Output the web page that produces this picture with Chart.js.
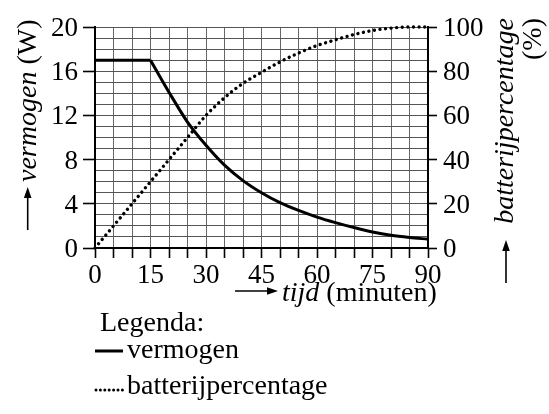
<!DOCTYPE html>
<html>
<head>
<meta charset="utf-8">
<script src="https://cdn.jsdelivr.net/npm/chart.js@4.4.1/dist/chart.umd.min.js"></script>
<style>
  html, body { margin: 0; padding: 0; background: #fff; }
  #wrap { position: relative; width: 549px; height: 414px; overflow: hidden; }
  canvas { display: block; }
  .lbl {
    position: absolute;
    font-size: 27px;
    line-height: 1;
    color: #000;
    white-space: nowrap;
  }
  .txt {
    position: absolute;
    font-size: 28px;
    line-height: 28px;
    color: #000;
    white-space: nowrap;
  }
  .rot { transform-origin: 0 0; transform: rotate(-90deg); }
</style>
</head>
<body>
<div id="wrap">
  <canvas id="laadChart" width="549" height="414"></canvas>
  <div class="txt rot" style="font-family:'Liberation Serif' !important; left:12.5px; top:182px;"><i style="font-family:'Liberation Serif' !important">vermogen</i> (W)</div>
  <div class="txt rot" style="font-family:'Liberation Serif' !important; left:489.5px; top:238px; width:220px; text-align:right;"><i style="font-family:'Liberation Serif' !important">batterijpercentage</i><br>(%)</div>
  <div class="txt" style="font-family:'Liberation Serif' !important; left:282px; top:277.5px;"><i style="font-family:'Liberation Serif' !important">tijd</i> (minuten)</div>
  <div class="txt" style="font-family:'Liberation Serif' !important; left:100px; top:307.5px;">Legenda:</div>
  <div class="txt" style="font-family:'Liberation Serif' !important; left:127px; top:334.5px;">vermogen</div>
  <div class="txt" style="font-family:'Liberation Serif' !important; left:127px; top:370.5px;">batterijpercentage</div>
</div>
<script>
// time in minutes, power in W, battery in %
const tijd = [0, 5, 10, 15, 20, 25, 30, 35, 40, 45, 50, 55, 60, 65, 70, 75, 80, 85, 90];
const vermogen = [17, 17, 17, 17, 14.1, 11.4, 9.3, 7.5, 6.1, 5.0, 4.1, 3.4, 2.8, 2.3, 1.85, 1.45, 1.15, 0.95, 0.8];
const batterij = [0, 10, 20, 30, 40, 50, 60, 68, 74.5, 79.5, 84.2, 88.2, 91.6, 94.2, 96.6, 98.4, 99.5, 100, 100];
const xLabels = [0, 15, 30, 45, 60, 75, 90];
const yLabels = [0, 4, 8, 12, 16, 20];
const y2Labels = [0, 20, 40, 60, 80, 100];

const toPoints = (xs, ys) => xs.map((x, i) => ({ x: x, y: ys[i] }));
const knik = tijd.indexOf(15);
const wrap = document.getElementById("wrap");

// arrow along local x axis, head at x1
const drawArrow = (ctx, x0, x1, y) => {
  ctx.beginPath();
  ctx.lineWidth = 1.6;
  ctx.moveTo(x0, y);
  ctx.lineTo(x1 - 6, y);
  ctx.stroke();
  ctx.beginPath();
  ctx.moveTo(x1, y);
  ctx.lineTo(x1 - 11, y - 3.8);
  ctx.lineTo(x1 - 11, y + 3.8);
  ctx.closePath();
  ctx.fill();
};

const addLabel = (text, css) => {
  const el = document.createElement("div");
  el.className = "lbl";
  el.textContent = text;
  Object.assign(el.style, css);
  el.style.setProperty("font-family", "'Liberation Serif'", "important");
  wrap.appendChild(el);
};

// tick labels as html text, placed with the chart scales
const labelPlugin = {
  id: "tickLabels",
  afterDraw: (chart) => {
    if (chart.$labelsDone) return;
    chart.$labelsDone = true;
    const { x, y, y2 } = chart.scales;
    xLabels.forEach((v) => {
      addLabel(String(v), {
        left: x.getPixelForValue(v) + "px",
        top: "274px",
        transform: "translate(-50%, -50%)",
      });
    });
    yLabels.forEach((v) => {
      addLabel(String(v), {
        right: 549 - 78 + "px",
        top: y.getPixelForValue(v) + "px",
        transform: "translateY(-50%)",
      });
    });
    y2Labels.forEach((v) => {
      addLabel(String(v), {
        left: "443px",
        top: y2.getPixelForValue(v) + "px",
        transform: "translateY(-50%)",
      });
    });
  },
};

const arrowPlugin = {
  id: "arrows",
  afterDraw: (chart) => {
    const ctx = chart.ctx;
    ctx.save();
    ctx.fillStyle = "#000";
    ctx.strokeStyle = "#000";

    ctx.save();
    ctx.translate(27.7, 230);
    ctx.rotate(-Math.PI / 2);
    drawArrow(ctx, 0, 43, 0);
    ctx.restore();

    ctx.save();
    ctx.translate(506, 283);
    ctx.rotate(-Math.PI / 2);
    drawArrow(ctx, 0, 43, 0);
    ctx.restore();

    drawArrow(ctx, 235, 278, 291);

    // legend samples
    ctx.beginPath();
    ctx.lineWidth = 3;
    ctx.moveTo(95, 351);
    ctx.lineTo(123, 351);
    ctx.stroke();
    for (let i = 0; i < 7; i++) {
      ctx.beginPath();
      ctx.arc(96 + i * 4.4, 390, 1.5, 0, Math.PI * 2);
      ctx.fill();
    }
    ctx.restore();
  },
};

const lineStyle = {
  borderColor: "#000",
  borderWidth: 3,
  pointRadius: 0,
  fill: false,
  yAxisID: "y",
};

const hiddenTicks = { color: "rgba(0,0,0,0)", font: { size: 27 } };

new Chart(document.getElementById("laadChart"), {
  type: "line",
  data: {
    datasets: [
      {
        ...lineStyle,
        label: "vermogen",
        data: toPoints(tijd.slice(0, knik + 1), vermogen.slice(0, knik + 1)),
        tension: 0,
      },
      {
        ...lineStyle,
        label: "vermogen",
        data: toPoints(tijd.slice(knik), vermogen.slice(knik)),
        cubicInterpolationMode: "monotone",
      },
      {
        label: "batterijpercentage",
        data: toPoints(tijd, batterij),
        borderColor: "#000",
        borderWidth: 3.4,
        borderDash: [0.01, 5.6],
        borderCapStyle: "round",
        cubicInterpolationMode: "monotone",
        pointRadius: 0,
        fill: false,
        clip: 6,
        yAxisID: "y2",
      },
    ],
  },
  options: {
    responsive: false,
    animation: false,
    events: [],
    layout: { padding: { top: 27, left: 0, right: 0, bottom: 0 } },
    plugins: {
      legend: { display: false },
      tooltip: { enabled: false },
    },
    scales: {
      x: {
        type: "linear",
        min: 0,
        max: 90,
        afterFit: (scale) => { scale.height = 166; },
        ticks: { ...hiddenTicks, stepSize: 5, autoSkip: false, maxRotation: 0 },
        grid: {
          color: "#666",
          lineWidth: 1,
          tickLength: 10,
          tickColor: "#000",
          tickWidth: 1.6,
        },
        border: { color: "#000", width: 2 },
      },
      y: {
        position: "left",
        min: 0,
        max: 20,
        afterFit: (scale) => { scale.width = 95; },
        ticks: { ...hiddenTicks, stepSize: 1, autoSkip: false },
        grid: {
          color: "#555",
          lineWidth: 1,
          tickLength: 12,
          tickWidth: 1.6,
          tickColor: (c) => (c.tick && yLabels.includes(c.tick.value) ? "#000" : "rgba(0,0,0,0)"),
        },
        border: { color: "#000", width: 2 },
      },
      y2: {
        position: "right",
        min: 0,
        max: 100,
        afterFit: (scale) => { scale.width = 121; },
        ticks: { ...hiddenTicks, stepSize: 20 },
        grid: {
          drawOnChartArea: false,
          tickLength: 9,
          tickWidth: 1.6,
          tickColor: "#000",
        },
        border: { color: "#000", width: 2 },
      },
    },
  },
  plugins: [arrowPlugin, labelPlugin],
});
</script>
</body>
</html>
